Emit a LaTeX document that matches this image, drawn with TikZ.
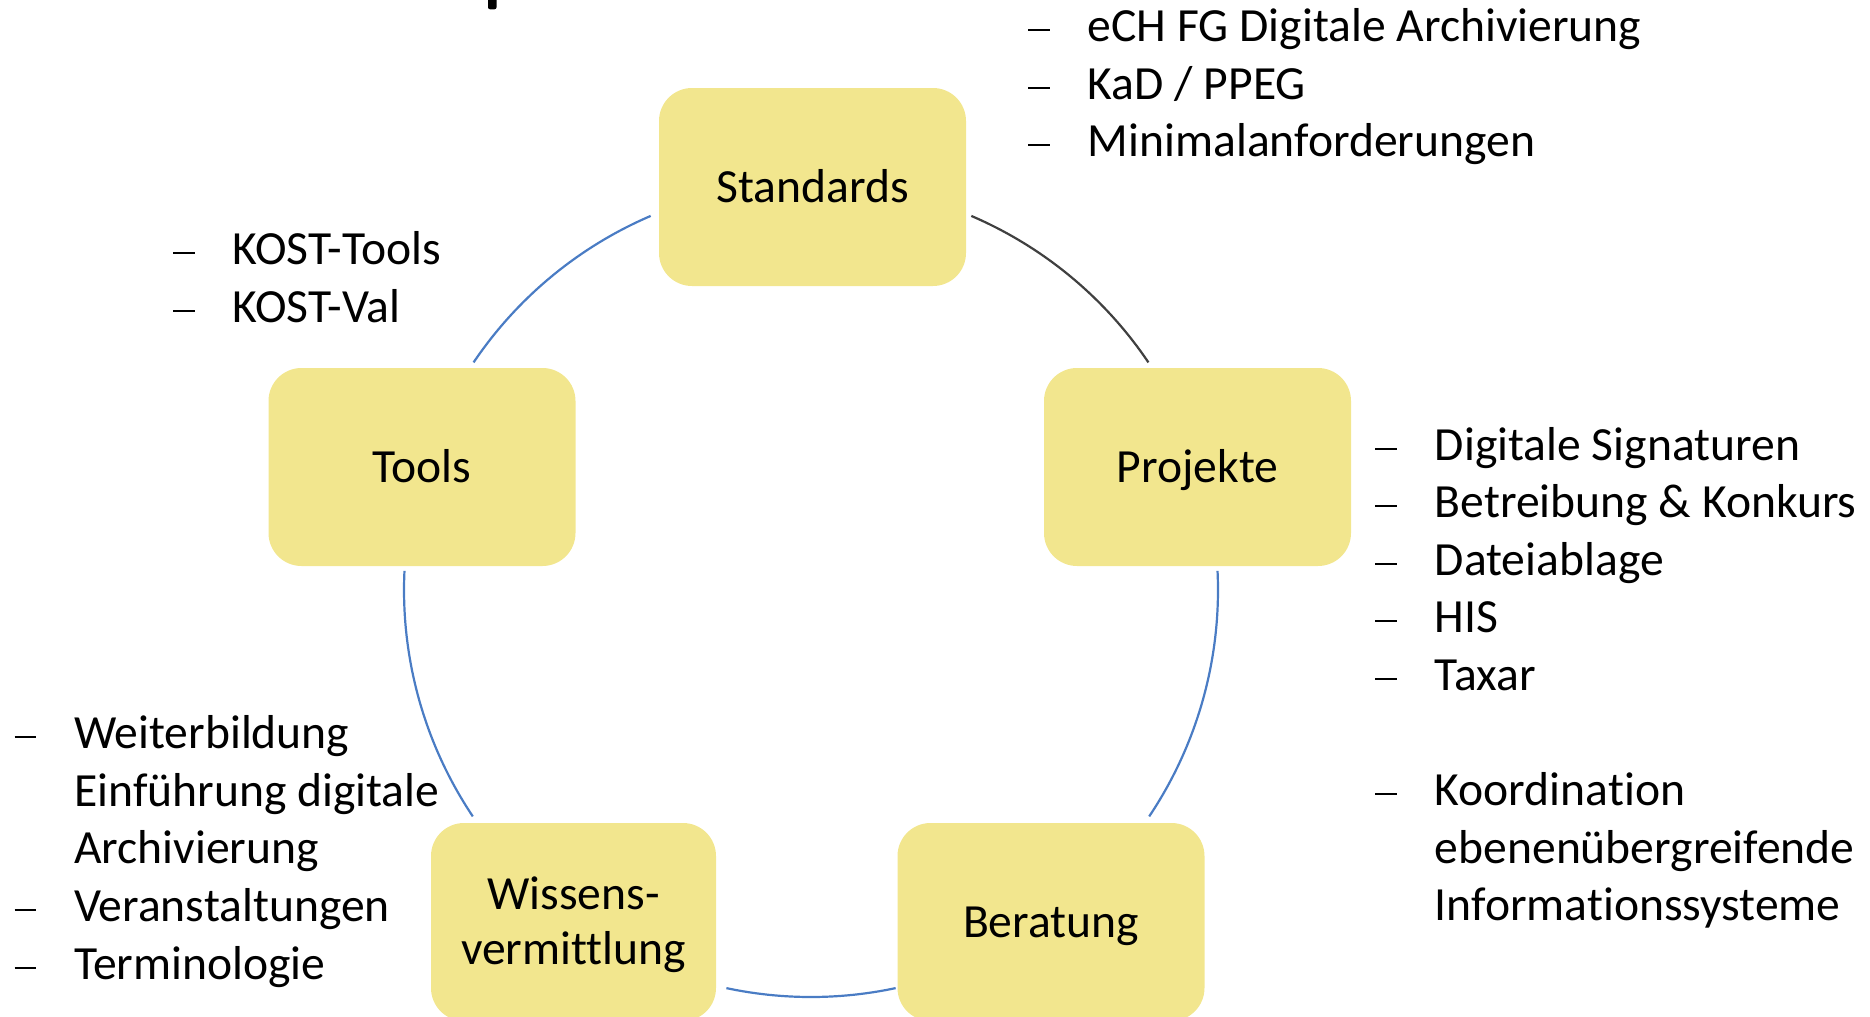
\documentclass[tikz,border=0pt]{standalone}
\usepackage{fontspec}
\setmainfont{Carlito}[Ligatures=NoCommon]
\definecolor{boxfill}{HTML}{F2E68E}
\definecolor{arcblue}{HTML}{4A7CC4}
\definecolor{arcgray}{HTML}{404040}
\newcommand{\dsh}{\makebox[29.75pt][l]{\rule[5.25pt]{10.75pt}{1pt}}}
\tikzset{
  cyclebox/.style={fill=boxfill, draw=none, rounded corners=16.5pt,
    minimum width=153.5pt, minimum height=99pt, inner sep=0pt, align=center,
    text height=15.7pt, text depth=0pt, font=\fontsize{23.8}{28.8}\selectfont},
  itemlist/.style={anchor=base west, inner sep=0pt, font=\fontsize{23.8}{28.8}\selectfont},
  cyclearc/.style={line width=1.1pt, arcblue},
}
\begin{document}
\begin{tikzpicture}[x=0.5pt,y=0.5pt]
\useasboundingbox (0,0) rectangle (1870,-1017);
\clip (0,0) rectangle (1870,-1017);
% fragment of title glyph
\fill[black, rounded corners=1pt] (488,2) rectangle (496.5,-9.3);
% centre of the cycle
\coordinate (ctr) at (811,-590);
% arcs
\draw[cyclearc] ([shift={(146:203.5pt)}]ctr) arc[start angle=146, end angle=113.2, radius=203.5pt];
\draw[cyclearc, arcgray] ([shift={(66.8:203.5pt)}]ctr) arc[start angle=66.8, end angle=34, radius=203.5pt];
\draw[cyclearc] ([shift={(2.7:203.5pt)}]ctr) arc[start angle=2.7, end angle=-33.8, radius=203.5pt];
\draw[cyclearc] ([shift={(-78:203.5pt)}]ctr) arc[start angle=-78, end angle=-102, radius=203.5pt];
\draw[cyclearc] ([shift={(213.8:203.5pt)}]ctr) arc[start angle=213.8, end angle=177.3, radius=203.5pt];
% boxes
\node[cyclebox] (standards) at (812.5,-187) {Standards};
\node[cyclebox] (tools) at (422,-467) {Tools};
\node[cyclebox] (projekte) at (1197.5,-467) {Projekte};
\node[cyclebox, minimum width=142.5pt, text height=42.3pt, font=\fontsize{23.8}{27.2}\selectfont] (wissen) at (573.5,-922) {Wissens-\\vermittlung};
\node[cyclebox] (beratung) at (1051,-922) {Beratung};
% lists
\node[itemlist] (liststd) at (1028,-41.5) {\begin{tabular}[t]{@{}l@{}l@{}}
\dsh & eCH FG Digitale Archivierung\\
\dsh & KaD / PPEG\\
\dsh & Minimalanforderungen
\end{tabular}};
\node[itemlist] (listtools) at (173,-264.5) {\begin{tabular}[t]{@{}l@{}l@{}}
\dsh & KOST-Tools\\
\dsh & KOST-Val
\end{tabular}};
\node[itemlist] (listproj) at (1375,-460) {\begin{tabular}[t]{@{}l@{}l@{}}
\dsh & Digitale Signaturen\\
\dsh & Betreibung \& Konkurs\\
\dsh & Dateiablage\\
\dsh & HIS\\
\dsh & Taxar\\
 & \\
\dsh & Koordination\\
 & ebenenübergreifende\\
 & Informationssysteme
\end{tabular}};
\node[itemlist] (listwissen) at (14.3,-748.7) {\begin{tabular}[t]{@{}l@{}l@{}}
\dsh & Weiterbildung\\
 & Einführung digitale\\
 & Archivierung\\
\dsh & Veranstaltungen\\
\dsh & Terminologie
\end{tabular}};
\end{tikzpicture}
\end{document}
